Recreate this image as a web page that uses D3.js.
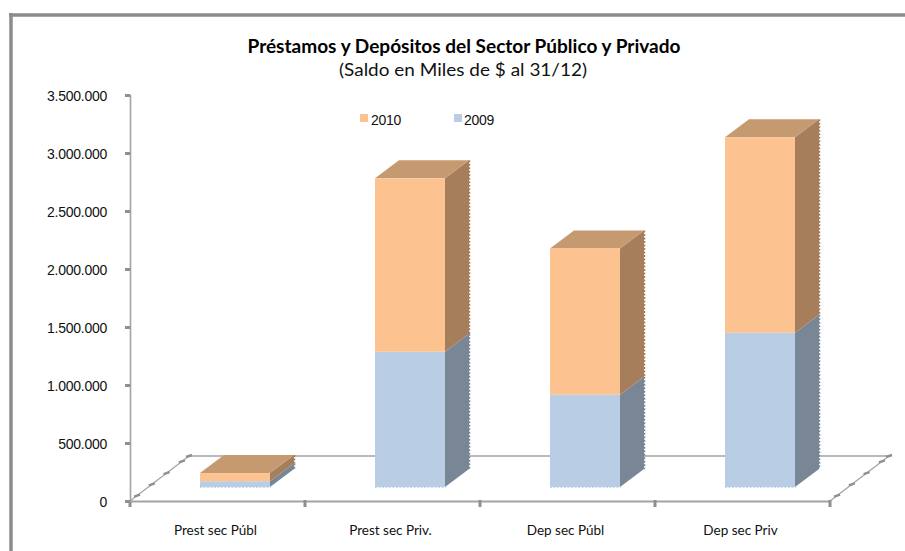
<!DOCTYPE html>
<html><head><meta charset="utf-8">
<script src="https://cdn.jsdelivr.net/npm/d3@7"></script>
<style>html,body{margin:0;padding:0;background:#fff}svg{display:block}</style>
</head><body><svg id="c" width="905" height="551"></svg>
<script>
const categories = ["Prest sec Públ","Prest sec Priv.","Dep sec Públ","Dep sec Priv"];
const values2009 = [50000,1166000,795000,1330000];
const values2010 = [70000,1495000,1262000,1685000];
const yTicks = [0,500000,1000000,1500000,2000000,2500000,3000000,3500000];
const legendLabels = ["2010","2009"];
const titleText = "Préstamos y Depósitos del Sector Público y Privado";
const subtitleText = "(Saldo en Miles de $ al 31/12)";

const W=905,H=551, grey="#8c8c8c", axisGrey="#a3a3a3";
const svg=d3.select("#c");
const x=d3.scaleBand().domain(categories).range([130,830]);
const y=d3.scaleLinear().domain([0,3500000]).range([501,95]);
const fmt=d3.formatLocale({decimal:",",thousands:".",grouping:[3],currency:["$",""]}).format(",d");
const depth={dx:24,dy:18};           // bar depth
const floor={dx:59,dy:45};           // floor depth
const lift=14, barW=x.bandwidth()*0.4, shift=17.5;

// frame
svg.append("line").attr("x1",9).attr("x2",W).attr("y1",15).attr("y2",15).attr("stroke",grey).attr("stroke-width",3.5);
svg.append("line").attr("x1",11).attr("x2",11).attr("y1",13).attr("y2",H).attr("stroke",grey).attr("stroke-width",3.5);

// title
svg.append("text").attr("x",464).attr("y",53).attr("text-anchor","middle")
  .attr("font-family","Lato, 'Open Sans', sans-serif").attr("font-weight",700).attr("font-size",18).attr("fill","#000").attr("textLength",433).attr("lengthAdjust","spacingAndGlyphs").text(titleText);
svg.append("text").attr("x",463).attr("y",76).attr("text-anchor","middle")
  .attr("font-family","Lato, 'Open Sans', sans-serif").attr("font-size",18).attr("fill","#111").attr("textLength",248).attr("lengthAdjust","spacingAndGlyphs").text(subtitleText);

// floor
const f0=y(0);
const fl=svg.append("g").attr("stroke",axisGrey).attr("fill","none");
fl.append("line").attr("x1",130+floor.dx).attr("x2",830+floor.dx).attr("y1",f0-floor.dy).attr("y2",f0-floor.dy).attr("stroke-width",1.6);
[130,830].forEach(a=>{
  fl.append("line").attr("x1",a).attr("x2",a+floor.dx).attr("y1",f0).attr("y2",f0-floor.dy).attr("stroke-width",1.2);
  // depth ticks
  [0.12,0.37,0.62,0.88,1].forEach(t=>{
    fl.append("line").attr("x1",a+floor.dx*t-3).attr("x2",a+floor.dx*t+3)
      .attr("y1",f0-floor.dy*t+1).attr("y2",f0-floor.dy*t-1).attr("stroke-width",2.4).attr("stroke","#8f8f8f");
  });
});

// x axis
const xAxis=svg.append("g").attr("transform",`translate(0,${f0})`)
  .call(d3.axisBottom(x).tickValues([]).tickSize(0));
xAxis.select(".domain").attr("stroke",axisGrey).attr("stroke-width",2);
d3.range(5).forEach(i=>{
  const tx=x.range()[0]+i*x.step();
  svg.append("line").attr("x1",tx).attr("x2",tx).attr("y1",f0-1).attr("y2",f0+6).attr("stroke","#8f8f8f").attr("stroke-width",3);
});
svg.selectAll("text.cat").data(categories).join("text").attr("class","cat")
  .attr("x",d=>x(d)+x.bandwidth()/2-2).attr("y",535).attr("text-anchor","middle")
  .attr("font-family","Lato, 'Open Sans', sans-serif").attr("font-size",13.5).attr("fill","#111").text(d=>d);

// y axis
const yAxis=svg.append("g").attr("transform","translate(130,0)")
  .call(d3.axisLeft(y).tickValues(yTicks).tickFormat(fmt).tickSize(5).tickPadding(18));
yAxis.select(".domain").attr("stroke",axisGrey).attr("stroke-width",1.6);
yAxis.selectAll(".tick line").attr("stroke","#8f8f8f").attr("stroke-width",3);
yAxis.selectAll(".tick text").attr("font-family","'Liberation Sans', Arial, sans-serif").attr("font-size",14).attr("letter-spacing","-0.25").attr("fill","#111").attr("dy","0.42em");

// bars
const colours={a:{front:"#b9cde5",side:"#788696"},b:{front:"#fcc28f",side:"#a67e5c",top:"#c59a70"}};
const base=y(0)-lift;
const h=v=>y(0)-y(v);
const bars=svg.selectAll("g.bar").data(categories).join("g").attr("class","bar");
bars.each(function(c,i){
  const g=d3.select(this), x0=x(c)+x.bandwidth()/2+shift-barW/2, x1=x0+barW;
  const m=base-h(values2009[i]), t=m-h(values2010[i]);
  const poly=(pts,fill)=>g.append("polygon").attr("points",pts.map(p=>p.join(",")).join(" ")).attr("fill",fill);
  // sides
  poly([[x1,base],[x1+depth.dx,base-depth.dy],[x1+depth.dx,m-depth.dy],[x1,m]],colours.a.side);
  poly([[x1,m],[x1+depth.dx,m-depth.dy],[x1+depth.dx,t-depth.dy],[x1,t]],colours.b.side);
  // top
  poly([[x0,t],[x1,t],[x1+depth.dx,t-depth.dy],[x0+depth.dx,t-depth.dy]],colours.b.top);
  // fronts
  g.append("rect").attr("x",x0).attr("y",m).attr("width",barW).attr("height",base-m).attr("fill",colours.a.front);
  g.append("rect").attr("x",x0).attr("y",t).attr("width",barW).attr("height",m-t).attr("fill",colours.b.front);
  // jagged rendered edges
  g.append("line").attr("x1",x0).attr("x2",x1+1).attr("y1",base).attr("y2",base)
    .attr("stroke",colours.a.front).attr("stroke-width",1.5).attr("stroke-dasharray","2 1.5");
  const edge=(y1,y2,col)=>g.append("line").attr("x1",x1+depth.dx+.5).attr("x2",x1+depth.dx+.5).attr("y1",y1).attr("y2",y2)
    .attr("stroke",col).attr("stroke-width",1.5).attr("stroke-dasharray","2 1.5");
  edge(t-depth.dy,m-depth.dy,colours.b.side);
  edge(m-depth.dy,base-depth.dy,colours.a.side);
});

// legend
const lx=d3.scalePoint().domain(legendLabels).range([360,454]);
const lg=svg.selectAll("g.leg").data(legendLabels).join("g").attr("class","leg")
  .attr("transform",d=>`translate(${lx(d)},114)`);
lg.append("rect").attr("width",8).attr("height",8).attr("fill",(d,i)=>i==0?colours.b.front:colours.a.front);
lg.append("text").attr("x",(d,i)=>i==0?11:10).attr("y",11).attr("font-family","'Liberation Sans', Arial, sans-serif").attr("font-size",14).attr("letter-spacing","-0.25").attr("fill","#111").text(d=>d);
</script></body></html>
